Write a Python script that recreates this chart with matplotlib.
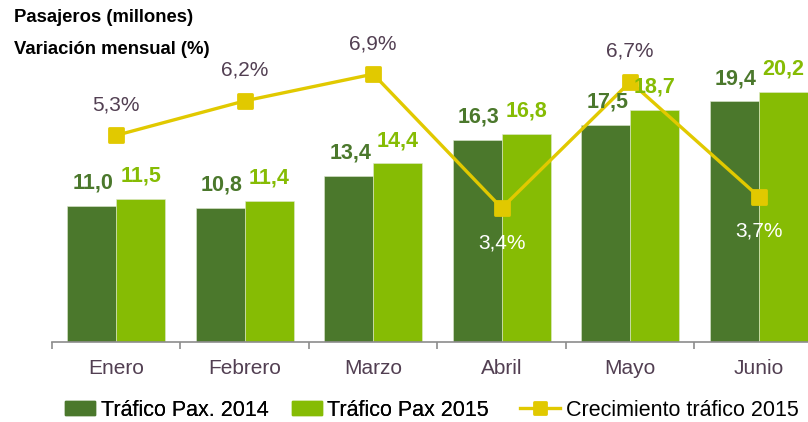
import matplotlib
matplotlib.use("Agg")
import matplotlib.pyplot as plt
from matplotlib.markers import MarkerStyle
from matplotlib.patches import Patch
from matplotlib.lines import Line2D

plt.rcParams['font.family'] = ['Liberation Sans', 'DejaVu Sans']

meses = ["Enero", "Febrero", "Marzo", "Abril", "Mayo", "Junio"]
pax_2014 = [11.0, 10.8, 13.4, 16.3, 17.5, 19.4]
pax_2015 = [11.5, 11.4, 14.4, 16.8, 18.7, 20.2]
crecimiento = [5.3, 6.2, 6.9, 3.4, 6.7, 3.7]

c_2014 = "#4b782c"
c_2015 = "#86bc04"
c_linea = "#e1c900"
c_texto = "#523f52"

fig = plt.figure(figsize=(8.08, 4.22), dpi=100)
ax = fig.add_axes([52 / 808, 80 / 422, 771 / 808, 310 / 422])

x = list(range(len(meses)))
w = 0.381
ax.bar([i - w / 2 for i in x], pax_2014, width=w, color=c_2014,
       edgecolor="#dfe8d0", linewidth=0.4, zorder=2)
ax.bar([i + w / 2 for i in x], pax_2015, width=w, color=c_2015,
       edgecolor="#dfe8d0", linewidth=0.4, zorder=2)

ax.set_xlim(-0.5, 5.5)
ax.set_ylim(0, 25)
for s in ["left", "right", "top"]:
    ax.spines[s].set_visible(False)
ax.spines["bottom"].set_color("#8c8c8c")
ax.spines["bottom"].set_linewidth(1.2)
ax.set_yticks([])
ax.set_xticks(x)
ax.set_xticklabels(meses, fontsize=15, color=c_texto)
ax.tick_params(axis="x", which="major", length=0, pad=12)
ax.set_xticks([i - 0.5 for i in range(len(meses) + 1)], minor=True)
ax.tick_params(axis="x", which="minor", length=5, width=1.2, color="#8c8c8c")

ax2 = ax.twinx()
ax2.set_ylim(-0.1, 8.0)
ax2.axis("off")
marker = MarkerStyle("s", joinstyle="round")
ax2.plot(x, crecimiento, color=c_linea, linewidth=2.4, marker=marker,
         markersize=10.5, markeredgewidth=2, markeredgecolor=c_linea,
         markerfacecolor=c_linea, zorder=3)

for i, v in enumerate(crecimiento):
    if v < 4:
        ax2.annotate(f"{v:.1f}%".replace(".", ","), (i, v), xytext=(0, -25),
                     textcoords="offset points", ha="center", va="center",
                     fontsize=15, color="white", zorder=4)
    else:
        ax2.annotate(f"{v:.1f}%".replace(".", ","), (i, v), xytext=(0, 22),
                     textcoords="offset points", ha="center", va="center",
                     fontsize=15, color=c_texto, zorder=4)

for i in x:
    ax2.annotate(f"{pax_2014[i]:.1f}".replace(".", ","), (i - w / 2, pax_2014[i] * 8.1 / 25 - 0.1),
                 xytext=(1, 16.5), textcoords="offset points", ha="center", va="center",
                 fontsize=15.5, fontweight="bold", color=c_2014, zorder=5)
    ax2.annotate(f"{pax_2015[i]:.1f}".replace(".", ","), (i + w / 2, pax_2015[i] * 8.1 / 25 - 0.1),
                 xytext=(0, 16.5), textcoords="offset points", ha="center", va="center",
                 fontsize=15.5, fontweight="bold", color=c_2015, zorder=5)

fig.text(14 / 808, 1 - 18 / 422, "Pasajeros (millones)", fontsize=13.3,
         fontweight="bold", va="center", ha="left")
fig.text(14 / 808, 1 - 50 / 422, "Variación mensual (%)", fontsize=13.3,
         fontweight="bold", va="center", ha="left")

barras = [
    Patch(color=c_2014, label="Tráfico Pax. 2014"),
    Patch(color=c_2015, label="Tráfico Pax 2015"),
]
leg1 = fig.legend(handles=barras, loc="center left", bbox_to_anchor=(65 / 808, 12 / 422),
                  ncol=2, frameon=False, fontsize=15.5, borderpad=0, borderaxespad=0,
                  handlelength=1.4, handletextpad=0.25, columnspacing=1.1, handleheight=0.62)
linea = [Line2D([0], [0], color=c_linea, linewidth=2.4, marker=marker, markersize=8.5,
                markeredgewidth=2, markeredgecolor=c_linea, label="Crecimiento tráfico 2015")]
fig.legend(handles=linea, loc="center left", bbox_to_anchor=(520 / 808, 12 / 422),
           frameon=False, fontsize=15.5, borderpad=0, borderaxespad=0,
           handlelength=1.85, handletextpad=0.3)
fig.add_artist(leg1)

fig.savefig("out.png", dpi=100)
